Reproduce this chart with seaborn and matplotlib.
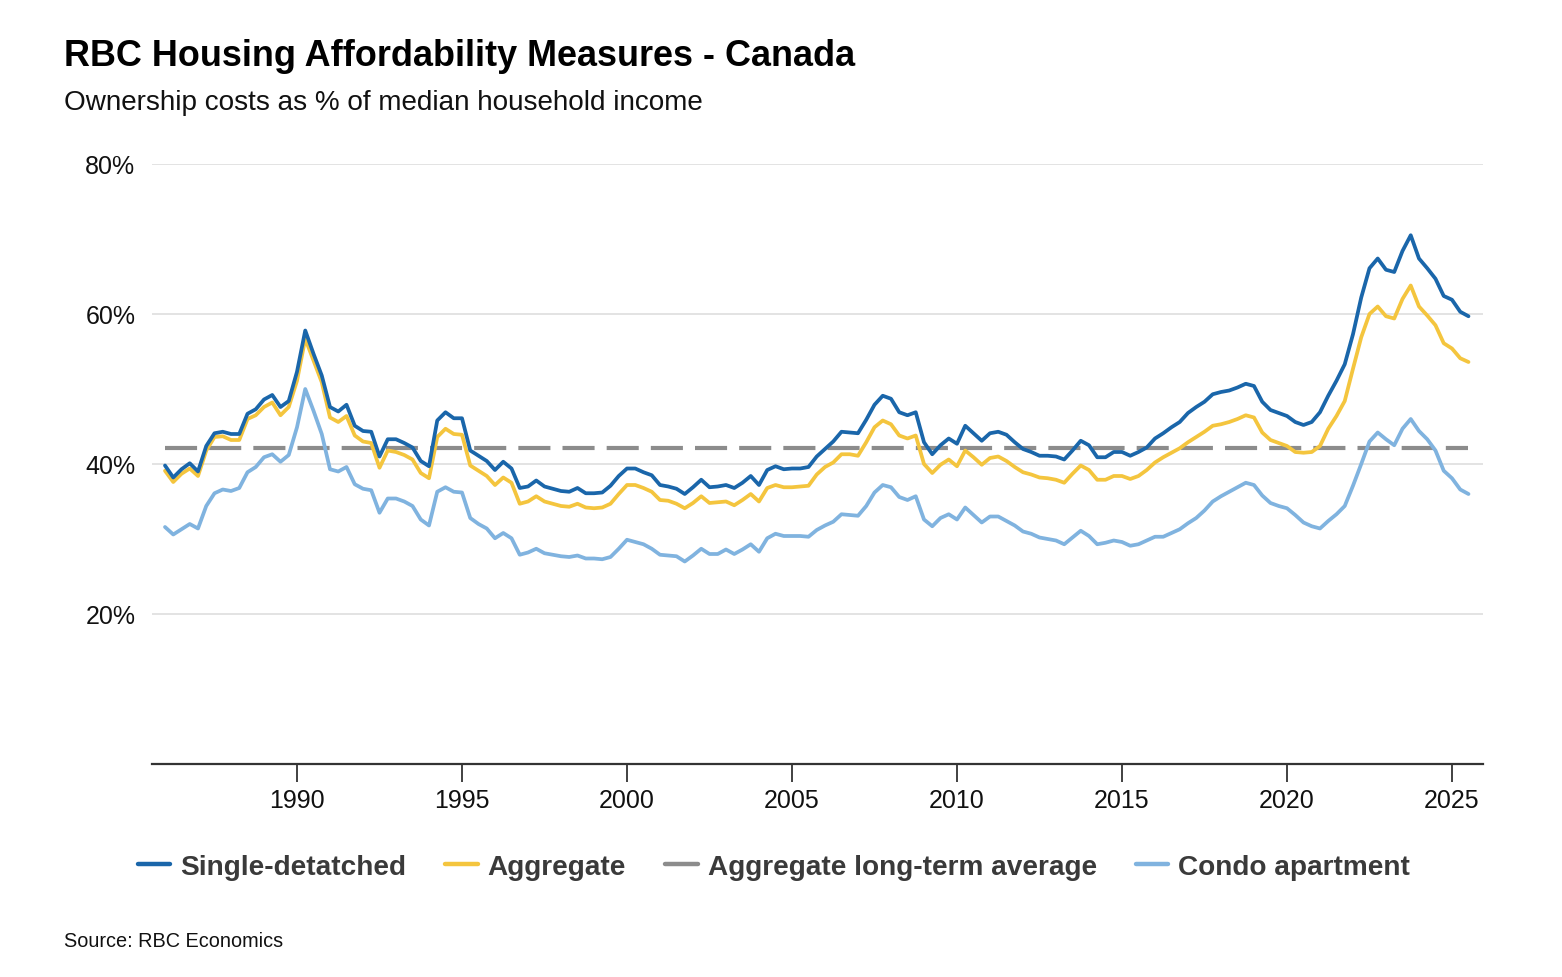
import numpy as np
import pandas as pd
import matplotlib
matplotlib.use("Agg")
import matplotlib.pyplot as plt
import seaborn as sns
from matplotlib.lines import Line2D

# ---------------- data (quarterly, 1986Q1 - 2025Q3) ----------------
quarters = pd.period_range("1986Q1", "2025Q3", freq="Q")

single_detached = [
    39.8, 38.2, 39.3, 40.1, 39.0, 42.4, 44.1, 44.3, 44.0, 44.0,
    46.7, 47.3, 48.6, 49.2, 47.6, 48.4, 52.3, 57.8, 54.7, 51.8,
    47.6, 47.0, 47.9, 45.1, 44.4, 44.3, 41.0, 43.3, 43.3, 42.8,
    42.2, 40.4, 39.7, 45.8, 46.9, 46.1, 46.1, 41.8, 41.1, 40.4,
    39.2, 40.3, 39.4, 36.8, 37.0, 37.8, 37.0, 36.7, 36.4, 36.3,
    36.8, 36.1, 36.1, 36.2, 37.1, 38.4, 39.4, 39.4, 38.9, 38.5,
    37.2, 37.0, 36.7, 36.0, 36.9, 37.9, 36.9, 37.0, 37.2, 36.8,
    37.5, 38.4, 37.2, 39.2, 39.7, 39.3, 39.4, 39.4, 39.6, 41.0,
    42.0, 43.0, 44.3, 44.2, 44.1, 45.9, 47.9, 49.1, 48.7, 46.9,
    46.5, 46.9, 42.9, 41.3, 42.5, 43.4, 42.7, 45.1, 44.1, 43.1,
    44.1, 44.3, 43.9, 42.9, 42.0, 41.6, 41.1, 41.1, 41.0, 40.6,
    41.8, 43.1, 42.5, 40.9, 40.9, 41.6, 41.6, 41.1, 41.6, 42.2,
    43.4, 44.1, 44.9, 45.6, 46.8, 47.6, 48.3, 49.3, 49.6, 49.8,
    50.2, 50.7, 50.4, 48.3, 47.2, 46.8, 46.4, 45.6, 45.2, 45.6,
    46.9, 49.1, 51.1, 53.3, 57.3, 62.2, 66.1, 67.4, 65.9, 65.6,
    68.4, 70.5, 67.4, 66.1, 64.7, 62.4, 61.9, 60.3, 59.7,
]

aggregate = [
    39.1, 37.6, 38.7, 39.4, 38.4, 41.8, 43.6, 43.7, 43.2, 43.2,
    46.0, 46.5, 47.6, 48.2, 46.5, 47.6, 51.1, 56.7, 53.8, 50.9,
    46.2, 45.6, 46.4, 43.8, 43.0, 42.8, 39.5, 41.8, 41.6, 41.2,
    40.6, 38.8, 38.1, 43.6, 44.7, 44.0, 43.9, 39.8, 39.1, 38.4,
    37.2, 38.2, 37.5, 34.7, 35.0, 35.7, 35.0, 34.7, 34.4, 34.3,
    34.7, 34.2, 34.1, 34.2, 34.7, 36.0, 37.2, 37.2, 36.8, 36.3,
    35.2, 35.1, 34.7, 34.1, 34.8, 35.7, 34.8, 34.9, 35.0, 34.5,
    35.2, 36.0, 35.0, 36.8, 37.2, 36.9, 36.9, 37.0, 37.1, 38.6,
    39.6, 40.2, 41.3, 41.3, 41.1, 42.9, 44.9, 45.8, 45.3, 43.8,
    43.4, 43.8, 40.0, 38.8, 39.9, 40.6, 39.7, 41.8, 40.9, 39.9,
    40.8, 41.0, 40.4, 39.6, 38.9, 38.6, 38.2, 38.1, 37.9, 37.5,
    38.7, 39.8, 39.2, 37.9, 37.9, 38.4, 38.4, 38.0, 38.4, 39.2,
    40.2, 40.9, 41.5, 42.1, 42.9, 43.6, 44.3, 45.1, 45.3, 45.6,
    46.0, 46.5, 46.2, 44.2, 43.2, 42.8, 42.4, 41.6, 41.5, 41.6,
    42.4, 44.7, 46.4, 48.4, 52.7, 56.9, 60.0, 61.0, 59.7, 59.4,
    62.0, 63.8, 61.0, 59.8, 58.5, 56.1, 55.4, 54.1, 53.6,
]

condo = [
    31.6, 30.6, 31.3, 32.0, 31.4, 34.4, 36.1, 36.6, 36.4, 36.8,
    38.9, 39.6, 40.9, 41.3, 40.3, 41.2, 44.9, 50.0, 47.1, 44.0,
    39.3, 39.0, 39.6, 37.3, 36.7, 36.5, 33.5, 35.4, 35.4, 35.0,
    34.4, 32.6, 31.8, 36.3, 36.9, 36.3, 36.2, 32.8, 32.0, 31.4,
    30.1, 30.8, 30.1, 27.9, 28.2, 28.7, 28.1, 27.9, 27.7, 27.6,
    27.8, 27.4, 27.4, 27.3, 27.6, 28.7, 29.9, 29.6, 29.3, 28.7,
    27.9, 27.8, 27.7, 27.0, 27.8, 28.7, 28.0, 28.0, 28.6, 28.0,
    28.6, 29.3, 28.3, 30.1, 30.7, 30.4, 30.4, 30.4, 30.3, 31.2,
    31.8, 32.3, 33.3, 33.2, 33.1, 34.4, 36.2, 37.2, 36.9, 35.6,
    35.2, 35.7, 32.6, 31.7, 32.8, 33.3, 32.6, 34.2, 33.2, 32.2,
    33.0, 33.0, 32.4, 31.8, 31.0, 30.7, 30.2, 30.0, 29.8, 29.3,
    30.2, 31.1, 30.4, 29.3, 29.5, 29.8, 29.6, 29.1, 29.3, 29.8,
    30.3, 30.3, 30.8, 31.3, 32.1, 32.8, 33.8, 35.0, 35.7, 36.3,
    36.9, 37.5, 37.2, 35.8, 34.8, 34.4, 34.1, 33.2, 32.2, 31.7,
    31.4, 32.4, 33.3, 34.4, 37.1, 40.0, 43.0, 44.2, 43.3, 42.5,
    44.7, 46.0, 44.4, 43.3, 41.8, 39.1, 38.1, 36.6, 36.0,
]

long_term_average = 42.1

series_names = ["Single-detatched", "Aggregate",
                "Aggregate long-term average", "Condo apartment"]
x_ticks = [1990, 1995, 2000, 2005, 2010, 2015, 2020, 2025]
y_ticks = [20, 40, 60, 80]

# ---------------- styling ----------------
sns.set_theme(style="white")
plt.rcParams["font.family"] = ["Liberation Sans", "DejaVu Sans"]

colors = {
    "Single-detatched": "#1a66aa",
    "Aggregate": "#f4c53e",
    "Aggregate long-term average": "#8c8c8c",
    "Condo apartment": "#80b3df",
}

t = np.array([q.year + (q.quarter - 1) / 4 for q in quarters])
df = pd.DataFrame({
    "t": np.concatenate([t, t, t]),
    "value": single_detached + aggregate + condo,
    "series": (["Single-detatched"] * len(t) + ["Aggregate"] * len(t)
               + ["Condo apartment"] * len(t)),
})
avg_df = pd.DataFrame({"t": t, "value": long_term_average})

fig = plt.figure(figsize=(15.62, 9.78), dpi=100)
ax = fig.add_axes([152 / 1562, 1 - 765 / 978, (1483 - 152) / 1562, 600 / 978])

# gridlines
for yv in y_ticks:
    ax.axhline(yv, color="#e0e0e0", lw=1.3, zorder=0)

sns.lineplot(data=avg_df, x="t", y="value", ax=ax, color=colors["Aggregate long-term average"],
             lw=3.0, dashes=False, zorder=2, legend=False)
ax.lines[-1].set_dashes((7.7, 2.9))

hue_order = ["Condo apartment", "Aggregate", "Single-detatched"]
sns.lineplot(data=df, x="t", y="value", hue="series", hue_order=hue_order,
             palette=colors, lw=2.7, ax=ax, legend=False, zorder=3)

ax.set_xlim(1985.606, 2025.94)
ax.set_ylim(0, 80)
ax.set_xticks(x_ticks)
ax.set_xticklabels([str(v) for v in x_ticks])
ax.set_yticks(y_ticks)
ax.set_yticklabels([f"{v}%" for v in y_ticks])
ax.set_xlabel("")
ax.set_ylabel("")
for s in ["top", "right", "left"]:
    ax.spines[s].set_visible(False)
ax.spines["bottom"].set_color("#333333")
ax.spines["bottom"].set_linewidth(1.6)
ax.tick_params(axis="x", direction="out", length=13, width=1.3, color="#333333",
               labelsize=18, labelcolor="#111111", pad=4, bottom=True)
ax.tick_params(axis="y", length=0, labelsize=18, labelcolor="#111111", pad=12)

# titles
fig.text(64 / 1562, 1 - 66 / 978, "RBC Housing Affordability Measures - Canada",
         fontsize=25.9, fontweight="bold", color="#000000", va="baseline", ha="left")
fig.text(64 / 1562, 1 - 110 / 978, "Ownership costs as % of median household income",
         fontsize=20.1, color="#111111", va="baseline", ha="left")
fig.text(64 / 1562, 1 - 947 / 978, "Source: RBC Economics",
         fontsize=14.3, color="#111111", va="baseline", ha="left")

# legend
handles = []
for name in series_names:
    handles.append(Line2D([0], [0], color=colors[name], lw=3.2))
fig.legend(handles, series_names, loc="center", bbox_to_anchor=(0.4955, 1 - 868 / 978),
           ncol=4, frameon=False, handlelength=1.15, handletextpad=0.36,
           columnspacing=1.4, prop={"weight": "bold", "size": 20.2},
           labelcolor="#3a3a3a")

fig.savefig("out.png", dpi=100)
